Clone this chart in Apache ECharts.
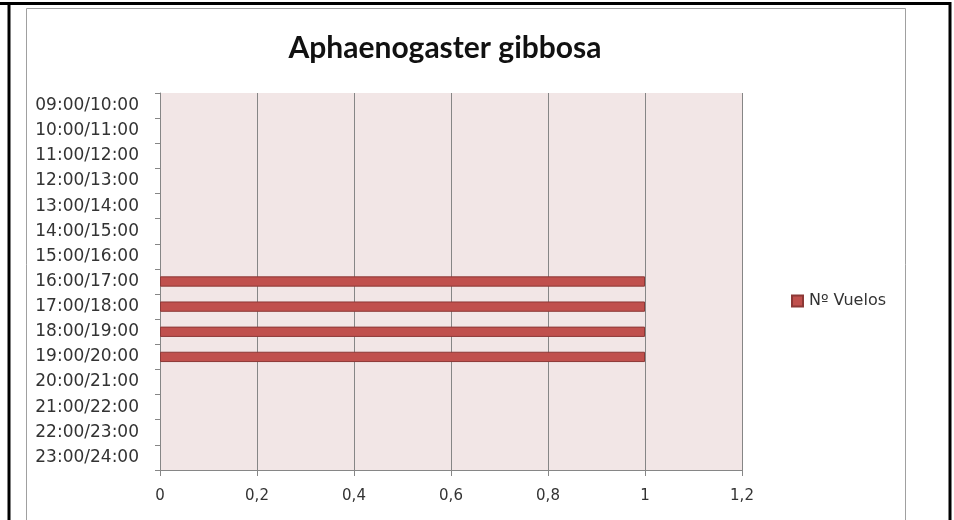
<!DOCTYPE html>
<html>
<head>
<meta charset="utf-8">
<script src="https://cdn.jsdelivr.net/npm/echarts@6/dist/echarts.min.js"></script>
<style>
  html, body { margin: 0; padding: 0; background: #fff; }
  #chart { width: 954px; height: 520px; }
</style>
</head>
<body>
<div id="chart"></div>
<script>
'use strict';

var titleText = 'Aphaenogaster gibbosa';
var seriesName = 'Nº Vuelos';
var categories = [
  '09:00/10:00', '10:00/11:00', '11:00/12:00', '12:00/13:00', '13:00/14:00',
  '14:00/15:00', '15:00/16:00', '16:00/17:00', '17:00/18:00', '18:00/19:00',
  '19:00/20:00', '20:00/21:00', '21:00/22:00', '22:00/23:00', '23:00/24:00'
];
var vuelos = [0, 0, 0, 0, 0, 0, 0, 1, 1, 1, 1, 0, 0, 0, 0];
var xMax = 1.2;
var xStep = 0.2;

var labelFont = '"DejaVu Sans", Verdana, sans-serif';

// zero bars get no border so they stay invisible, like in Excel
var barData = vuelos.map(function (v) {
  return { value: v, itemStyle: { borderWidth: v ? 1 : 0 } };
});

var myChart = echarts.init(document.getElementById('chart'));

var option = {
  animation: false,
  backgroundColor: '#ffffff',
  title: {
    text: titleText,
    left: 445,
    textAlign: 'center',
    top: 28,
    textStyle: {
      fontFamily: 'Lato, "Open Sans", sans-serif',
      fontSize: 30,
      fontWeight: 'bold',
      color: '#111'
    }
  },
  legend: {
    data: [seriesName],
    left: 786,
    top: 288,
    itemWidth: 11,
    itemHeight: 11,
    icon: 'rect',
    textStyle: {
      fontFamily: labelFont,
      fontSize: 16,
      color: '#333',
      padding: [0, 0, 0, 1]
    }
  },
  grid: {
    left: 160,
    right: 212,
    top: 93,
    bottom: 50,
    show: true,
    backgroundColor: '#f2e6e6',
    borderWidth: 0
  },
  xAxis: {
    type: 'value',
    min: 0,
    max: xMax,
    interval: xStep,
    axisLine: { show: true, lineStyle: { color: '#868686', width: 1 } },
    axisTick: { show: true, length: 6, lineStyle: { color: '#868686' } },
    splitLine: { show: true, lineStyle: { color: '#868686', width: 1 } },
    axisLabel: {
      margin: 19,
      fontFamily: labelFont,
      fontSize: 15,
      color: '#333',
      formatter: function (v) {
        return String(Math.round(v * 10) / 10).replace('.', ',');
      }
    }
  },
  yAxis: {
    type: 'category',
    data: categories,
    inverse: true,
    axisLine: { show: true, lineStyle: { color: '#868686', width: 1 } },
    axisTick: { show: true, length: 5, lineStyle: { color: '#868686' } },
    splitLine: { show: false },
    axisLabel: {
      margin: 21,
      fontFamily: labelFont,
      fontSize: 17,
      color: '#333'
    }
  },
  series: [{
    name: seriesName,
    type: 'bar',
    data: barData,
    barWidth: '41%',
    itemStyle: {
      color: '#c0504d',
      borderColor: '#8c3836',
      borderWidth: 1
    }
  }],
  graphic: [{
    type: 'line',
    shape: { x1: 0, y1: 3.5, x2: 951, y2: 3.5 },
    style: { stroke: '#000', lineWidth: 3 },
    silent: true
  }, {
    type: 'line',
    shape: { x1: 9, y1: 2, x2: 9, y2: 520 },
    style: { stroke: '#000', lineWidth: 3 },
    silent: true
  }, {
    type: 'line',
    shape: { x1: 950, y1: 2, x2: 950, y2: 520 },
    style: { stroke: '#000', lineWidth: 3 },
    silent: true
  }, {
    type: 'rect',
    shape: { x: 26.5, y: 8.5, width: 879, height: 530 },
    style: { fill: 'none', stroke: '#a0a0a0', lineWidth: 1 },
    silent: true
  }]
};

// nudge title a little left to sit where the original one does
option.title.left = 440;

myChart.setOption(option);
</script>
</body>
</html>
